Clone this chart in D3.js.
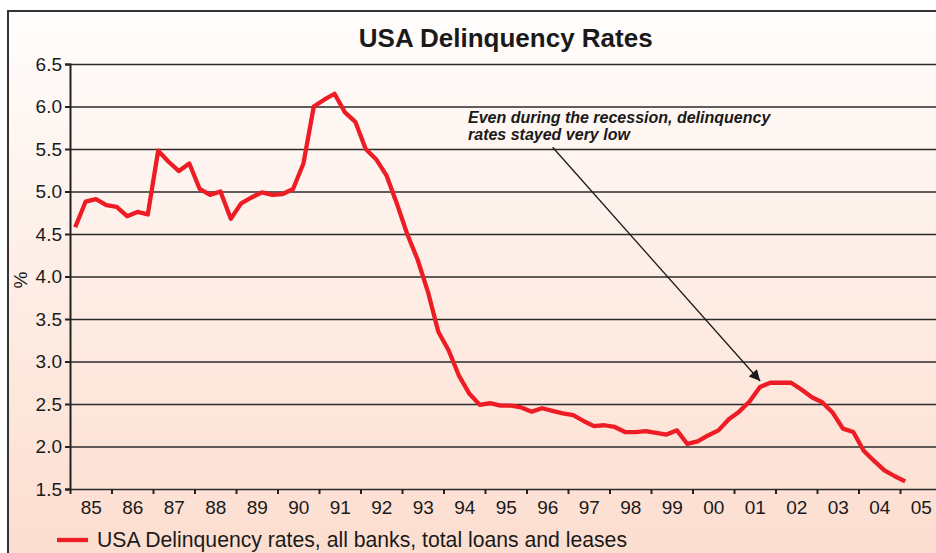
<!DOCTYPE html>
<html>
<head>
<meta charset="utf-8">
<script src="https://cdn.jsdelivr.net/npm/d3@7"></script>
<style>
  body { margin: 0; background: #fff; }
  text { font-family: "Liberation Sans Narrow", "Liberation Sans", Arial, sans-serif; fill: #1a1a1a; }
</style>
</head>
<body>
<div id="chart"></div>
<script>
// svg container
var svgWidth = 936;
var svgHeight = 553;

// quarterly delinquency rates, 1985 Q1 .. 2005 Q1 (%)
var startYear = 1985;
var rates = [
  4.58, 4.88, 4.91, 4.84, 4.82, 4.71, 4.76, 4.73,
  5.48, 5.35, 5.24, 5.33, 5.03, 4.96, 5.00, 4.68,
  4.86, 4.93, 4.99, 4.96, 4.97, 5.03, 5.33, 6.00,
  6.08, 6.15, 5.93, 5.82, 5.50, 5.38, 5.19, 4.86,
  4.50, 4.20, 3.82, 3.35, 3.13, 2.83, 2.62, 2.49,
  2.51, 2.48, 2.48, 2.46, 2.41, 2.45, 2.42, 2.39,
  2.37, 2.30, 2.24, 2.25, 2.23, 2.17, 2.17, 2.18,
  2.16, 2.14, 2.19, 2.03, 2.06, 2.13, 2.19, 2.32,
  2.41, 2.53, 2.70, 2.75, 2.75, 2.75, 2.67, 2.58,
  2.52, 2.40, 2.21, 2.17, 1.95, 1.83, 1.72, 1.65,
  1.59
];

// axis ticks
var yearTicks = d3.range(1985, 2006);
var yTicks = [1.5, 2.0, 2.5, 3.0, 3.5, 4.0, 4.5, 5.0, 5.5, 6.0, 6.5];

// text
var titleText = "USA Delinquency Rates";
var legendText = "USA Delinquency rates, all banks, total loans and leases";
var noteLines = ["Even during the recession, delinquency", "rates stayed very low"];
// arrow: from text to the 2001 peak (data coords)
var arrowFrom = [1996.63, 5.52];
var arrowTo = [2001.63, 2.77];

// points: middle of each quarter
var points = rates.map(function(v, i) {
  return { x: startYear + (i + 0.5) / 4, y: v };
});

var plotLeft = 70, plotTop = 64, plotBottom = 489;
var yearWidth = 41.5;

var xScale = d3.scaleLinear()
  .domain([1985, 2006])
  .range([plotLeft, plotLeft + 21 * yearWidth]);

var yScale = d3.scaleLinear()
  .domain([1.5, 6.5])
  .range([plotBottom, plotTop]);

var svg = d3.select("#chart")
  .append("svg")
  .attr("width", svgWidth)
  .attr("height", svgHeight);

// background gradient
var grad = svg.append("defs").append("linearGradient")
  .attr("id", "bg")
  .attr("x1", 0).attr("y1", 0).attr("x2", 0).attr("y2", 1);
grad.append("stop").attr("offset", "0%").attr("stop-color", "#fffdfc");
grad.append("stop").attr("offset", "100%").attr("stop-color", "#fcdccd");

svg.append("rect")
  .attr("x", 8).attr("y", 11)
  .attr("width", svgWidth + 20).attr("height", svgHeight + 20)
  .attr("fill", "url(#bg)")
  .attr("stroke", "#333")
  .attr("stroke-width", 2);

// grid lines
svg.append("g")
  .attr("transform", `translate(${plotLeft},0)`)
  .call(d3.axisLeft(yScale).tickValues(yTicks).tickSize(-(svgWidth - plotLeft)).tickFormat(""))
  .call(g => g.select(".domain").remove())
  .call(g => g.selectAll("line").attr("stroke", "#2b2b2b").attr("stroke-width", 1.6));

// y axis
svg.append("g")
  .attr("transform", `translate(${plotLeft},0)`)
  .call(d3.axisLeft(yScale).tickValues(yTicks).tickSize(5).tickPadding(3).tickFormat(d3.format(".1f")))
  .call(g => g.select(".domain").attr("stroke", "#222").attr("stroke-width", 2))
  .call(g => g.selectAll("line").attr("stroke", "#222").attr("stroke-width", 2))
  .call(g => g.selectAll("text").attr("font-size", 19).attr("font-family", null).attr("fill", "#1a1a1a"));

// x axis ticks
svg.append("g")
  .attr("transform", `translate(0,${plotBottom})`)
  .call(d3.axisBottom(xScale).tickValues(yearTicks).tickSize(5).tickFormat(""))
  .call(g => g.select(".domain").remove())
  .call(g => g.selectAll("line").attr("stroke", "#222").attr("stroke-width", 2));

// x labels between ticks
svg.append("g")
  .attr("transform", `translate(0,${plotBottom})`)
  .call(d3.axisBottom(xScale).tickValues(yearTicks.map(y => y + 0.5)).tickSize(0).tickPadding(12)
    .tickFormat(d => String(Math.floor(d) % 100).padStart(2, "0")))
  .call(g => g.select(".domain").remove())
  .call(g => g.selectAll("text").attr("font-size", 19).attr("font-family", null).attr("fill", "#1a1a1a"));

// y label
svg.append("text")
  .attr("transform", "translate(27,280) rotate(-90)")
  .attr("text-anchor", "middle")
  .attr("font-size", 19)
  .text("%");

// title
svg.append("text")
  .attr("x", (xScale(1985) + xScale(2006)) / 2)
  .attr("y", 47)
  .attr("text-anchor", "middle")
  .attr("font-size", 26)
  .attr("font-weight", "bold")
  .style("font-family", "'Liberation Sans', Arial, sans-serif")
  .text(titleText);

// data line
var line = d3.line()
  .x(d => xScale(d.x))
  .y(d => yScale(d.y));

svg.append("path")
  .datum(points)
  .attr("d", line)
  .attr("fill", "none")
  .attr("stroke", "#ee1c24")
  .attr("stroke-width", 4.3)
  .attr("stroke-linejoin", "round");

// annotation
svg.append("defs").append("marker")
  .attr("id", "arrow")
  .attr("viewBox", "0 0 10 10")
  .attr("refX", 10).attr("refY", 5)
  .attr("markerWidth", 15).attr("markerHeight", 11)
  .attr("markerUnits", "userSpaceOnUse")
  .attr("orient", "auto")
  .append("path")
  .attr("d", "M0,0 L10,5 L0,10 z")
  .attr("fill", "#1a1a1a");

svg.append("line")
  .attr("x1", xScale(arrowFrom[0])).attr("y1", yScale(arrowFrom[1]))
  .attr("x2", xScale(arrowTo[0])).attr("y2", yScale(arrowTo[1]))
  .attr("stroke", "#1a1a1a")
  .attr("stroke-width", 1.3)
  .attr("marker-end", "url(#arrow)");

svg.append("g").selectAll("text")
  .data(noteLines)
  .enter()
  .append("text")
  .attr("x", 468)
  .attr("y", (d, i) => 123 + i * 17)
  .attr("font-size", 16)
  .attr("font-weight", "bold")
  .attr("font-style", "italic")
  .text(d => d);

// legend
svg.append("line")
  .attr("x1", 57).attr("x2", 88)
  .attr("y1", 540).attr("y2", 540)
  .attr("stroke", "#ee1c24")
  .attr("stroke-width", 4.3);

svg.append("text")
  .attr("x", 97)
  .attr("y", 547)
  .attr("font-size", 21.2)
  .style("font-family", "'Liberation Sans', Arial, sans-serif")
  .text(legendText);
</script>
</body>
</html>
